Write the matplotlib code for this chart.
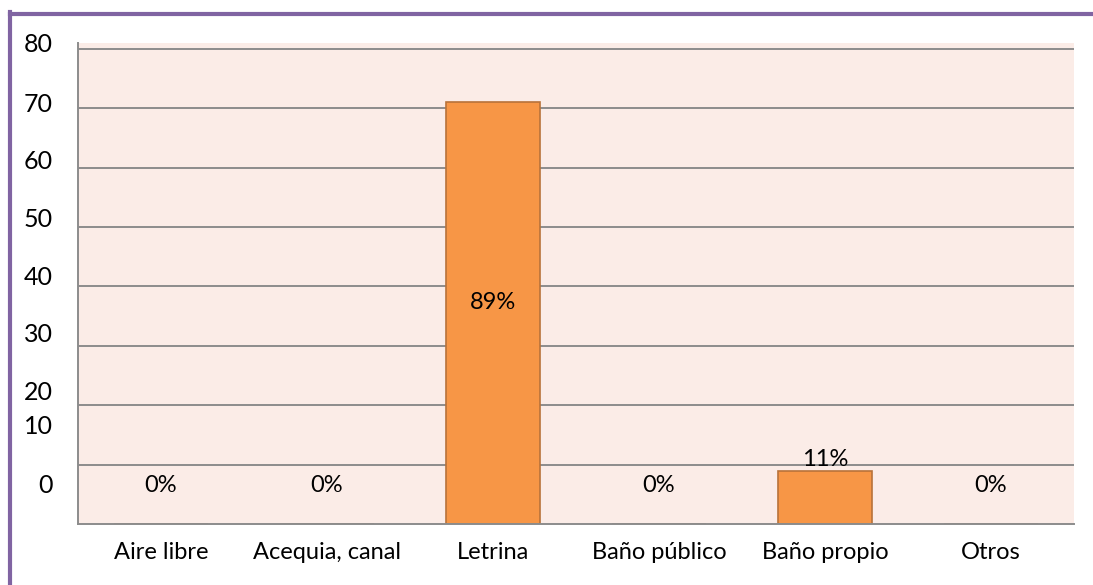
import matplotlib
matplotlib.use('Agg')
from matplotlib import pyplot as plt
from matplotlib.lines import Line2D

# Data
categories = ['Aire libre', 'Acequia, canal', 'Letrina', 'Baño público', 'Baño propio', 'Otros']
counts = [0, 0, 71, 0, 9, 0]
percent_labels = ['0%', '0%', '89%', '0%', '11%', '0%']

# y tick labels sit off the gridlines in the original
ytick_labels = ['0', '10', '20', '30', '40', '50', '60', '70', '80']
ytick_pos = [6.8, 16.8, 22.5, 32.3, 41.8, 51.6, 61.4, 71.0, 81.0]

plt.rcParams['font.family'] = ['Lato', 'DejaVu Sans']

fig = plt.figure(figsize=(10.93, 5.85), dpi=100)
ax = fig.add_axes([78 / 1093, 1 - 524 / 585, (1074 - 78) / 1093, (524 - 43) / 585])
ax.set_facecolor('#FBECE7')

grid_color = '#8C8C8C'
for y in range(10, 81, 10):
    ax.axhline(y, color=grid_color, linewidth=1.4, zorder=1)

x = list(range(len(categories)))
ax.bar(x, counts, width=0.57, color='#F79646', edgecolor='#B8723A', linewidth=1.2, zorder=2)

for xi, v, lab in zip(x, counts, percent_labels):
    if v == 0:
        ax.text(xi, 6.5, lab, ha='center', va='center', fontsize=17, zorder=3)
    elif v > 20:
        ax.text(xi, v / 2 + 1.8, lab, ha='center', va='center', fontsize=17, zorder=3)
    else:
        ax.text(xi, v + 0.1, lab, ha='center', va='bottom', fontsize=17, zorder=3)

ax.set_xlim(-0.5, len(categories) - 0.5)
ax.set_ylim(0, 80)
ax.set_xticks(x)
ax.set_xticklabels(categories, fontsize=17)
ax.set_yticks(ytick_pos)
ax.set_yticklabels(ytick_labels, fontsize=18)
ax.tick_params(axis='both', length=0)
ax.tick_params(axis='x', pad=13)
ax.tick_params(axis='y', pad=18)

for side in ['top', 'right']:
    ax.spines[side].set_visible(False)
for side in ['left', 'bottom']:
    ax.spines[side].set_color(grid_color)
    ax.spines[side].set_linewidth(1.4)

# purple frame around the chart
purple = '#8064A2'
fig.add_artist(Line2D([9.5 / 1093, 1.0], [1 - 14 / 585, 1 - 14 / 585], color=purple, linewidth=3, transform=fig.transFigure))
fig.add_artist(Line2D([9.5 / 1093, 9.5 / 1093], [0.0, 1 - 12 / 585], color=purple, linewidth=3, transform=fig.transFigure))

plt.savefig('out.png', dpi=100)
plt.close()
